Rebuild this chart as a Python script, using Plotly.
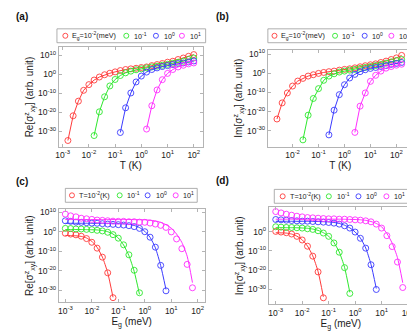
import numpy as np
import plotly.graph_objects as go

# ---------------- data (log10 of values) ----------------
# panel (a): Re[sigma] vs T, series for Eg = 1e-2, 1e-1, 1e0, 1e1 meV
T_exp_a = [-2.8, -2.6, -2.4, -2.2, -2.0, -1.8, -1.6, -1.4, -1.2, -1.0, -0.8, -0.6, -0.4,
           -0.2, 0.0, 0.2, 0.4, 0.6, 0.8, 1.0, 1.2, 1.4, 1.6, 1.8, 2.0]
re_T_eg1 = [-34.9, -21.9, -14.2, -8.5, -5.5, -3.1, -1.5, -0.3, 0.5, 1.2, 1.9, 2.45, 2.8, 3.1,
            3.5, 3.8, 4.5, 5.05, 5.6, 6.3, 6.8, 7.7, 8.5, 9.4, 10.3]
re_T_eg2 = [-32.3, -19.8, -11.9, -6.2, -2.8, -0.7, 0.7, 1.6, 2.3, 2.8, 3.3, 3.8, 4.2, 4.7,
            5.2, 5.75, 6.3, 6.8, 7.7, 8.5]
re_T_eg3 = [-30.7, -17.7, -9.9, -4.1, -1.0, 1.1, 2.45, 3.3, 4.0, 4.5, 5.05, 5.6, 5.9, 6.4, 6.95]
re_T_eg4 = [-28.9, -16.6, -8.3, -2.9, 0.4, 2.45, 3.8, 4.7, 5.4, 5.9]

# panel (b): Im[sigma] vs T
T_exp_b = [-2.6, -2.4, -2.2, -2.0, -1.8, -1.6, -1.4, -1.2, -1.0, -0.8, -0.6, -0.4, -0.2,
           0.0, 0.2, 0.4, 0.6, 0.8, 1.0, 1.2, 1.4, 1.6, 1.8, 2.0, 2.2]
im_T_eg1 = [-23.9, -15.5, -10.3, -6.7, -4.1, -2.7, -1.5, -0.8, -0.1, 0.4, 0.8, 1.1, 1.6, 2.0,
            2.3, 2.8, 3.35, 3.9, 4.4, 4.9, 5.6, 6.3, 7.15, 8.0, 9.3]
im_T_eg2 = [-34.8, -21.9, -13.2, -8.05, -3.7, -1.5, -0.3, 0.6, 1.1, 1.6, 2.0, 2.5, 3.0, 3.5,
            4.0, 4.55, 5.25, 5.9, 6.6, 7.2]
im_T_eg3 = [-32.2, -19.3, -11.2, -6.0, -2.5, -0.6, 0.8, 1.8, 2.5, 3.0, 3.5, 4.0, 4.6, 5.1, 5.6]
im_T_eg4 = [-30.9, -17.2, -10.3, -4.25, -1.1, 1.1, 2.65, 3.5, 4.2, 4.7]

# panels (c),(d): vs Eg, series for T = 1e-2, 1e-1, 1e0, 1e1 K
Eg_exp = [-3.0, -2.8, -2.6, -2.4, -2.2, -2.0, -1.8, -1.6, -1.4, -1.2, -1.0, -0.8, -0.6,
          -0.4, -0.2, 0.0, 0.2, 0.4, 0.6, 0.8, 1.0, 1.2, 1.4, 1.6, 1.8]
re_E_t1 = [-0.8, -1.2, -1.6, -2.3, -3.5, -5.4, -8.4, -13.0, -21.0, -33.7]
re_E_t2 = [1.7, 1.6, 1.4, 1.4, 1.2, 1.05, 0.7, 0.4, -0.3, -1.5, -3.3, -6.7, -11.8, -19.7, -31.2]
re_E_t3 = [5.6, 5.3, 4.9, 4.8, 4.6, 4.4, 4.3, 4.1, 3.9, 3.75, 3.6, 3.4, 3.1, 2.6, 1.7, 0.0,
           -2.8, -7.9, -17.2, -30.2]
re_E_t4 = [9.0, 8.1, 7.6, 6.9, 6.6, 6.3, 5.95, 5.8, 5.6, 5.4, 5.3, 5.3, 5.1, 5.1, 4.9, 4.8,
           4.4, 3.9, 3.25, 2.2, -0.1, -3.7, -8.7, -16.7, -28.65]
re_E_t1_line = [-1.9, -2.0, -2.1, -2.4, -3.2, -4.9, -8.0, -13.0, -21.0, -33.5]
re_E_t2_line = [1.1, 1.1, 1.1, 1.1, 1.05, 1.0, 0.9, 0.6, 0.0, -1.2, -3.2, -6.8, -12.2, -20.3, -32.0]
re_E_t3_line = [4.3, 4.3, 4.3, 4.3, 4.3, 4.3, 4.3, 4.3, 4.3, 4.3, 4.2, 4.1, 3.8, 3.2, 2.1, 0.2,
                -2.9, -8.2, -17.3, -29.5]
re_E_t4_line = [6.2, 6.2, 6.2, 6.2, 6.2, 6.2, 6.2, 6.2, 6.2, 6.2, 6.2, 6.2, 6.2, 6.15, 6.1,
                6.1, 5.9, 5.5, 4.8, 3.6, 1.8, -1.2, -5.5, -12.5, -26.0]

im_E_t1 = [0.08, -0.26, -0.6, -1.28, -2.48, -4.36, -7.6, -12.74, -20.9, -34.3]
im_E_t2 = [2.48, 2.3, 2.13, 2.13, 1.96, 1.79, 1.45, 1.11, 0.42, -0.77, -2.48, -5.9, -10.7,
           -18.7, -32.05]
im_E_t3 = [6.24, 6.07, 5.9, 5.72, 5.55, 5.38, 5.38, 5.21, 5.04, 4.87, 4.7, 4.36, 3.84, 2.99,
           1.79, -0.26, -3.5, -8.6, -17.2, -30.0]
im_E_t4 = [10.34, 9.66, 8.97, 8.46, 7.95, 7.6, 7.26, 7.1, 6.92, 6.75, 6.58, 6.58, 6.4, 6.4,
           6.24, 6.07, 5.9, 5.55, 5.04, 3.84, 1.79, -2.14, -7.78, -15.8, -29.0]
im_E_t1_line = [-0.6, -0.7, -0.8, -1.3, -2.4, -4.3, -7.5, -12.6, -20.7, -33.8]
im_E_t2_line = [2.0, 2.0, 2.0, 2.0, 1.95, 1.85, 1.7, 1.3, 0.6, -0.6, -2.4, -5.7, -10.6, -18.5, -31.5]
im_E_t3_line = [5.3, 5.3, 5.3, 5.3, 5.3, 5.3, 5.3, 5.25, 5.2, 5.1, 5.0, 4.7, 4.2, 3.3, 1.9,
                -0.2, -3.4, -8.5, -17.0, -29.5]
im_E_t4_line = [6.4, 6.4, 6.4, 6.4, 6.4, 6.4, 6.4, 6.4, 6.4, 6.4, 6.4, 6.4, 6.4, 6.35, 6.3,
                6.25, 6.1, 5.8, 5.2, 4.2, 2.5, -1.0, -6.0, -13.5, -26.5]

x_tick_vals = [1e-3, 1e-2, 1e-1, 1e0, 1e1, 1e2]
x_tick_text = ['10<sup>-3</sup>', '10<sup>-2</sup>', '10<sup>-1</sup>', '10<sup>0</sup>',
               '10<sup>1</sup>', '10<sup>2</sup>']
y_tick_vals = [1e-30, 1e-20, 1e-10, 1e0, 1e10]
y_tick_text = ['10<sup>-30</sup>', '10<sup>-20</sup>', '10<sup>-10</sup>', '10<sup>0</sup>',
               '10<sup>10</sup>']
y_tick_vals_d = [1e-30, 1e-20, 1e-10, 1e0]
y_tick_text_d = ['10<sup>-30</sup>', '10<sup>-20</sup>', '10<sup>-10</sup>', '10<sup>0</sup>']

legend_T_labels = ['E<sub>g</sub>=10<sup>-2</sup>(meV)', '10<sup>-1</sup>', '10<sup>0</sup>', '10<sup>1</sup>']
legend_E_labels = ['T=10<sup>-2</sup>(K)', '10<sup>-1</sup>', '10<sup>0</sup>', '10<sup>1</sup>']

colors = ['#ff3b3b', '#2ee82e', '#3b3bff', '#ff2eff']

W, H = 415, 334
FONT = 'Liberation Sans, Arial, Helvetica, sans-serif'


def pw(x):
    return x / W


def ph(y):
    return 1 - y / H


def p10(v):
    return [10.0 ** e for e in v]


fig = go.Figure()

panels = {
    'a': dict(ax='', box=(48.3, 194.3, 36.7, 137.0), xr=[-3.15, 2.35], yr=[-38.2, 14.1],
              yt=(y_tick_vals, y_tick_text)),
    'b': dict(ax='2', box=(260.0, 406.7, 39.0, 137.0), xr=[-2.95, 2.63], yr=[-38.4, 12.3],
              yt=(y_tick_vals, y_tick_text)),
    'c': dict(ax='3', box=(48.3, 196.0, 200.0, 294.0), xr=[-3.25, 2.26], yr=[-36.1, 11.5],
              yt=(y_tick_vals, y_tick_text)),
    'd': dict(ax='4', box=(261.0, 406.7, 198.0, 296.0), xr=[-3.26, 2.18], yr=[-37.7, 12.6],
              yt=(y_tick_vals_d, y_tick_text_d)),
}

# panel (a),(b): markers and connecting curves
for key, xexp, series in [('a', T_exp_a, [re_T_eg1, re_T_eg2, re_T_eg3, re_T_eg4]),
                          ('b', T_exp_b, [im_T_eg1, im_T_eg2, im_T_eg3, im_T_eg4])]:
    a = panels[key]['ax']
    for s, c in zip(series, colors):
        xs = p10(xexp[len(xexp) - len(s):])
        ys = p10(s)
        fig.add_trace(go.Scatter(x=xs, y=ys, mode='lines', line=dict(color=c, width=1),
                                 xaxis='x' + a, yaxis='y' + a, showlegend=False, hoverinfo='skip'))
        fig.add_trace(go.Scatter(x=xs, y=ys, mode='markers',
                                 marker=dict(symbol='circle-open', size=6, color=c, line=dict(width=0.9)),
                                 xaxis='x' + a, yaxis='y' + a, showlegend=False))

for key, mk, ln in [('c', [re_E_t1, re_E_t2, re_E_t3, re_E_t4],
                     [re_E_t1_line, re_E_t2_line, re_E_t3_line, re_E_t4_line]),
                    ('d', [im_E_t1, im_E_t2, im_E_t3, im_E_t4],
                     [im_E_t1_line, im_E_t2_line, im_E_t3_line, im_E_t4_line])]:
    a = panels[key]['ax']
    for s, l, c in zip(mk, ln, colors):
        fig.add_trace(go.Scatter(x=p10(Eg_exp[:len(l)]), y=p10(l), mode='lines',
                                 line=dict(color=c, width=1, shape='spline', smoothing=0.6),
                                 xaxis='x' + a, yaxis='y' + a, showlegend=False, hoverinfo='skip'))
        fig.add_trace(go.Scatter(x=p10(Eg_exp[:len(s)]), y=p10(s), mode='markers',
                                 marker=dict(symbol='circle-open', size=6, color=c, line=dict(width=0.9)),
                                 xaxis='x' + a, yaxis='y' + a, showlegend=False))

axis_common = dict(type='log', showline=True, linecolor='#b4b4b4', linewidth=1, mirror='ticks',
                   ticks='inside', ticklen=3, tickcolor='#b4b4b4', showgrid=False, zeroline=False,
                   tickfont=dict(size=8.5, color='#1a1a1a', family=FONT), tickmode='array')

titles = {
    'a': ('T (K)', 'Re[σ<sup>z</sup><sub>xy</sub>] (arb. unit)'),
    'b': ('T (K)', 'Im[σ<sup>z</sup><sub>xy</sub>] (arb. unit)'),
    'c': ('E<sub>g</sub> (meV)', 'Re[σ<sup>z</sup><sub>xy</sub>] (arb. unit)'),
    'd': ('E<sub>g</sub> (meV)', 'Im[σ<sup>z</sup><sub>xy</sub>] (arb. unit)'),
}

for key, p in panels.items():
    x0, x1, y0, y1 = p['box']
    a = p['ax']
    xname = 'xaxis' + a
    yname = 'yaxis' + a
    fig.layout[xname] = dict(axis_common, domain=[pw(x0), pw(x1)], range=p['xr'],
                             tickvals=x_tick_vals, ticktext=x_tick_text,
                             anchor='y' + a,
                             title=dict(text=titles[key][0], font=dict(size=10, family=FONT, color='#1a1a1a'),
                                        standoff=0))
    fig.layout[yname] = dict(axis_common, domain=[ph(y1), ph(y0)], range=p['yr'],
                             tickvals=p['yt'][0], ticktext=p['yt'][1],
                             anchor='x' + a,
                             title=dict(text=titles[key][1], font=dict(size=10, family=FONT, color='#1a1a1a'),
                                        standoff=2))

# legends (drawn as boxed rows above each panel)
legend_specs = [
    ((46.5, 197.0, 18.0, 32.0), [55.0, 116.7, 146.7, 173.0], [59.5, 122.0, 152.5, 179.5], legend_T_labels),
    ((260.0, 408.5, 18.0, 32.0), [266.7, 328.0, 358.0, 385.0], [271.5, 333.5, 363.5, 391.0], legend_T_labels),
    ((55.0, 188.5, 179.0, 193.0), [61.7, 110.0, 138.3, 166.7], [66.5, 115.5, 145.0, 172.5], legend_E_labels),
    ((266.5, 401.5, 180.0, 194.0), [275.0, 321.7, 351.7, 380.0], [280.0, 327.5, 357.5, 386.0], legend_E_labels),
]
shapes = []
annotations = []
for (bx0, bx1, by0, by1), mxs, txs, labels in legend_specs:
    shapes.append(dict(type='rect', xref='paper', yref='paper', x0=pw(bx0), x1=pw(bx1),
                       y0=ph(by1), y1=ph(by0), line=dict(color='#9a9a9a', width=0.8),
                       fillcolor='white', layer='above'))
    yc = (by0 + by1) / 2
    for mx, tx, lab, c in zip(mxs, txs, labels, colors):
        shapes.append(dict(type='circle', xref='paper', yref='paper', xsizemode='pixel',
                           ysizemode='pixel', xanchor=pw(mx), yanchor=ph(yc),
                           x0=-2.5, x1=2.5, y0=-2.5, y1=2.5, line=dict(color=c, width=0.9),
                           layer='above'))
        annotations.append(dict(text=lab, xref='paper', yref='paper', x=pw(tx), y=ph(yc),
                                xanchor='left', yanchor='middle', showarrow=False,
                                font=dict(size=7.2, family=FONT, color='#1a1a1a')))

for lab, x, y in [('(a)', 3, 6), ('(b)', 205, 6), ('(c)', 3, 172), ('(d)', 205, 171)]:
    annotations.append(dict(text='<b>' + lab + '</b>', xref='paper', yref='paper', x=pw(x), y=ph(y),
                            xanchor='left', yanchor='middle', showarrow=False,
                            font=dict(size=10, family=FONT, color='#111')))

fig.update_layout(width=W, height=H, margin=dict(l=0, r=0, t=0, b=0),
                  paper_bgcolor='white', plot_bgcolor='white',
                  font=dict(family=FONT, color='#1a1a1a'),
                  shapes=shapes, annotations=annotations, showlegend=False)

fig.write_html('out.html')
